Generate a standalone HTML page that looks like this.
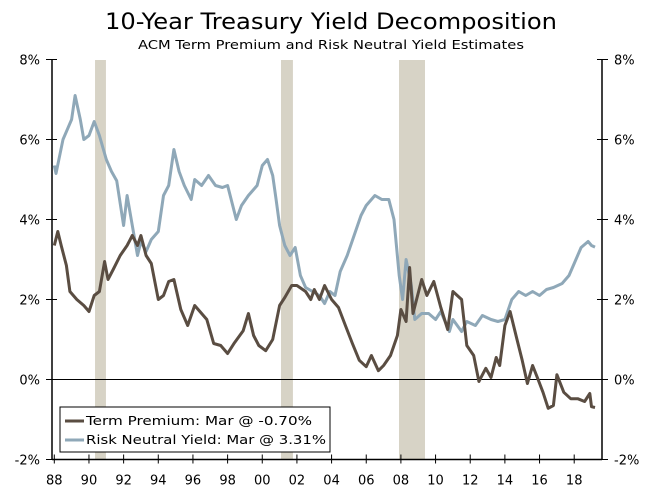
<!DOCTYPE html>
<html><head><meta charset="utf-8"><style>
body{margin:0;background:#fff}
svg text{font-family:"DejaVu Sans","Liberation Sans",sans-serif}
</style></head><body>
<svg id="chart" width="657" height="494" xmlns="http://www.w3.org/2000/svg">
<text x="331" y="29" text-anchor="middle" font-size="22" textLength="452" lengthAdjust="spacingAndGlyphs">10-Year Treasury Yield Decomposition</text>
<text x="331" y="49" text-anchor="middle" font-size="12.5" textLength="386" lengthAdjust="spacingAndGlyphs">ACM Term Premium and Risk Neutral Yield Estimates</text>
<g id="bands"></g><g id="axes"></g><g id="lines"></g>
<g>
<rect x="60" y="407" width="270" height="45" fill="#fff" stroke="#000" stroke-width="1"/>
<line x1="65" y1="421" x2="84" y2="421" stroke="#5a4d42" stroke-width="3"/>
<text x="86" y="425" font-size="12.5" textLength="226" lengthAdjust="spacingAndGlyphs">Term Premium: Mar @ -0.70%</text>
<line x1="65" y1="440" x2="84" y2="440" stroke="#8fa8b8" stroke-width="3"/>
<text x="86" y="444" font-size="12.5" textLength="240" lengthAdjust="spacingAndGlyphs">Risk Neutral Yield: Mar @ 3.31%</text>
</g>
</svg>
<script>
const recessions=[[1990.35,1990.98],[2001.08,2001.77],[2007.89,2009.39]];
const yTicks=[8,6,4,2,0,-2];
const xTickYears=[1988,1990,1992,1994,1996,1998,2000,2002,2004,2006,2008,2010,2012,2014,2016,2018];
const xTickLabels=["88","90","92","94","96","98","00","02","04","06","08","10","12","14","16","18"];
const rnYears=[1988.0,1988.1,1988.5,1989.0,1989.2,1989.5,1989.7,1990.0,1990.3,1990.6,1991.0,1991.3,1991.6,1992.0,1992.2,1992.5,1992.8,1993.0,1993.3,1993.6,1994.0,1994.3,1994.6,1994.9,1995.2,1995.5,1995.9,1996.1,1996.5,1996.9,1997.3,1997.7,1998.0,1998.5,1998.8,1999.2,1999.7,2000.0,2000.3,2000.6,2000.8,2001.0,2001.3,2001.6,2001.9,2002.2,2002.5,2002.9,2003.3,2003.6,2003.9,2004.2,2004.5,2004.9,2005.3,2005.7,2006.0,2006.5,2006.9,2007.3,2007.6,2007.9,2008.1,2008.3,2008.6,2008.8,2009.2,2009.6,2010.0,2010.3,2010.8,2011.0,2011.5,2011.8,2012.3,2012.7,2013.2,2013.6,2014.0,2014.4,2014.8,2015.2,2015.6,2016.0,2016.4,2016.8,2017.3,2017.7,2018.0,2018.4,2018.8,2019.0,2019.2];
const rnValues=[5.35,5.15,6.0,6.5,7.1,6.5,6.0,6.1,6.45,6.1,5.5,5.2,4.97,3.85,4.6,3.85,3.1,3.45,3.2,3.5,3.7,4.6,4.85,5.75,5.2,4.85,4.5,5.0,4.85,5.1,4.85,4.8,4.85,4.0,4.35,4.6,4.85,5.35,5.5,5.1,4.5,3.85,3.35,3.1,3.3,2.6,2.3,2.2,2.1,1.9,2.2,2.1,2.7,3.1,3.6,4.1,4.35,4.6,4.5,4.5,4.0,2.6,2.0,3.0,2.35,1.5,1.65,1.65,1.5,1.7,1.2,1.5,1.2,1.45,1.35,1.6,1.5,1.45,1.5,2.0,2.2,2.1,2.2,2.1,2.25,2.3,2.4,2.6,2.9,3.3,3.45,3.35,3.31];
const tpYears=[1988.0,1988.2,1988.4,1988.7,1988.9,1989.3,1989.7,1990.0,1990.3,1990.6,1990.9,1991.1,1991.4,1991.8,1992.2,1992.5,1992.8,1993.0,1993.3,1993.6,1994.0,1994.3,1994.6,1994.9,1995.3,1995.7,1996.1,1996.4,1996.8,1997.2,1997.6,1998.0,1998.4,1998.9,1999.2,1999.5,1999.8,2000.2,2000.6,2001.0,2001.3,2001.7,2002.0,2002.5,2002.8,2003.0,2003.3,2003.6,2004.0,2004.4,2004.8,2005.2,2005.6,2006.0,2006.3,2006.7,2007.0,2007.4,2007.8,2008.0,2008.3,2008.5,2008.7,2009.2,2009.5,2009.9,2010.3,2010.7,2011.0,2011.5,2011.8,2012.2,2012.5,2012.9,2013.2,2013.5,2013.7,2014.0,2014.3,2014.7,2015.0,2015.3,2015.6,2015.9,2016.2,2016.5,2016.8,2017.0,2017.4,2017.8,2018.2,2018.6,2018.9,2019.0,2019.2];
const tpValues=[3.35,3.7,3.35,2.85,2.2,2.0,1.85,1.7,2.1,2.2,2.95,2.5,2.75,3.1,3.35,3.6,3.35,3.6,3.1,2.9,2.0,2.1,2.45,2.5,1.75,1.35,1.85,1.7,1.5,0.9,0.85,0.65,0.92,1.22,1.65,1.1,0.85,0.72,1.0,1.85,2.05,2.35,2.35,2.2,2.0,2.25,2.0,2.35,2.0,1.8,1.35,0.9,0.48,0.32,0.6,0.22,0.35,0.6,1.1,1.75,1.45,2.8,1.65,2.5,2.1,2.45,1.8,1.25,2.2,2.0,0.85,0.6,-0.05,0.28,0.05,0.55,0.35,1.35,1.7,1.0,0.48,-0.1,0.35,0.02,-0.32,-0.72,-0.65,0.12,-0.32,-0.48,-0.48,-0.55,-0.35,-0.68,-0.70];
const X0=52,X1=602,Y0=60,Y1=459.5;
const xs=y=>54.3+(y-1988)*17.33;
const ys=v=>379.5-v*40;
const NS="http://www.w3.org/2000/svg";
function mk(p,t,a){const e=document.createElementNS(NS,t);for(const k in a)e.setAttribute(k,a[k]);p.appendChild(e);return e;}
const bands=document.getElementById('bands'),axes=document.getElementById('axes'),lines=document.getElementById('lines');
recessions.forEach(r=>{
 const e=mk(bands,'rect',{x:xs(r[0]),y:Y0,width:xs(r[1])-xs(r[0]),height:Y1-Y0,fill:'#d7d3c6'});
 
 
});
mk(axes,'line',{x1:X0,y1:Y0,x2:X0,y2:Y1,stroke:'#000','stroke-width':1.5});
mk(axes,'line',{x1:X1,y1:Y0,x2:X1,y2:Y1,stroke:'#000','stroke-width':1.5});
mk(axes,'line',{x1:X0,y1:Y1,x2:X1,y2:Y1,stroke:'#000','stroke-width':1.5});
mk(axes,'line',{x1:X0,y1:ys(0),x2:X1,y2:ys(0),stroke:'#000','stroke-width':1});
yTicks.forEach(v=>{
 const y=ys(v);
 mk(axes,'line',{x1:X0-6,y1:y,x2:X0+5,y2:y,stroke:'#000','stroke-width':1});
 mk(axes,'line',{x1:X1-5,y1:y,x2:X1+6,y2:y,stroke:'#000','stroke-width':1});
 const l=mk(axes,'text',{x:X0-12,y:y+5,'text-anchor':'end','font-size':13});l.textContent=v+'%';
 
 
 const r=mk(axes,'text',{x:X1+12,y:y+5,'text-anchor':'start','font-size':13});r.textContent=v+'%';
 
 
});
xTickYears.forEach((yr,i)=>{
 const x=xs(yr);
 mk(axes,'line',{x1:x,y1:Y1-5,x2:x,y2:Y1+4,stroke:'#000','stroke-width':1});
 const t=mk(axes,'text',{x:x,y:Y1+25,'text-anchor':'middle','font-size':13});t.textContent=xTickLabels[i];
 
 
});
function line(xsArr,vals,color,name){
 const d=xsArr.map((y,i)=>(i?'L':'M')+xs(y).toFixed(1)+','+ys(vals[i]).toFixed(1)).join('');
 const p=mk(lines,'path',{d:d,fill:'none',stroke:color,'stroke-width':3,'stroke-linejoin':'round'});
 
 
}
line(rnYears,rnValues,'#8fa8b8','risk-neutral-yield-line');
line(tpYears,tpValues,'#5a4d42','term-premium-line');
</script>
</body></html>
